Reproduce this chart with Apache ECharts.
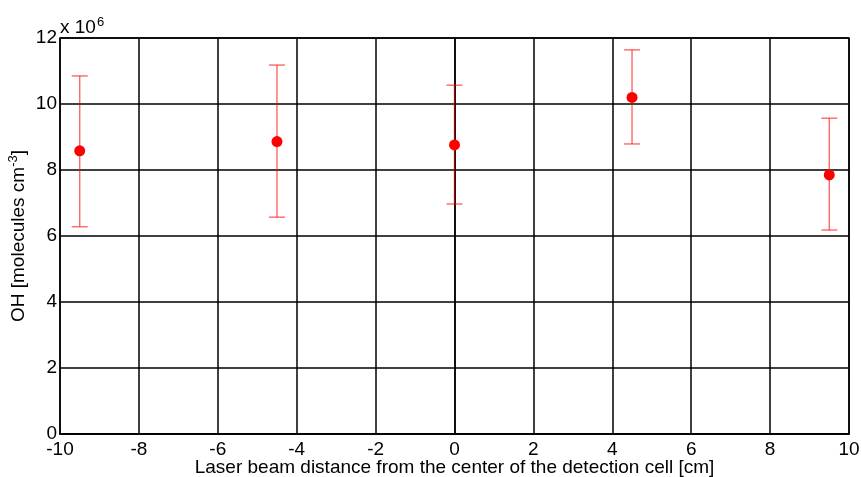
<!DOCTYPE html>
<html>
<head>
<meta charset="utf-8">
<script src="https://cdn.jsdelivr.net/npm/echarts@6/dist/echarts.min.js"></script>
<style>
  html, body { margin: 0; padding: 0; background: #fff; }
  #chart { width: 861px; height: 477px; }
</style>
</head>
<body>
<div id="chart"></div>
<script>
// Laser beam position [cm] and measured OH concentration (units of 1e6 molecules cm^-3)
const positions = [-9.5, -4.5, 0, 4.5, 9.5];
const ohValues = [8.58, 8.86, 8.76, 10.2, 7.85];
const errLow = [6.28, 6.57, 6.97, 8.79, 6.18];
const errHigh = [10.85, 11.18, 10.57, 11.64, 9.57];

const FONT = '"Liberation Sans", Arial, sans-serif';
const FS = 19;
const LINE_W = 1.5;

const pointData = positions.map((x, i) => [x, ohValues[i]]);
const barData = positions.map((x, i) => [x, errLow[i], errHigh[i]]);

const chart = echarts.init(document.getElementById('chart'));
chart.setOption({
  animation: false,
  grid: {
    left: 60, right: 12, top: 38, bottom: 43,
    outerBoundsMode: 'none',
    containLabel: false,
    show: true, borderColor: '#000', borderWidth: LINE_W
  },
  xAxis: {
    type: 'value', min: -10, max: 10, interval: 2,
    name: 'Laser beam distance from the center of the detection cell [cm]',
    nameLocation: 'middle', nameGap: 24, nameMoveOverlap: false,
    nameTextStyle: { fontFamily: FONT, fontSize: FS, color: '#000' },
    axisLine: { show: true, lineStyle: { color: '#000', width: LINE_W } },
    axisTick: { show: false },
    axisLabel: { fontFamily: FONT, fontSize: FS, color: '#000', margin: 6 },
    splitLine: { show: true, lineStyle: { color: '#000', width: LINE_W } }
  },
  yAxis: {
    type: 'value', min: 0, max: 12, interval: 2,
    name: '{n|OH [molecules cm}{s|-3}{n|]}',
    nameLocation: 'middle', nameGap: 30, nameRotate: 90, nameMoveOverlap: false,
    nameTextStyle: {
      rich: {
        n: { fontFamily: FONT, fontSize: FS, color: '#000' },
        s: { fontFamily: FONT, fontSize: 13, color: '#000', verticalAlign: 'top', padding: [0, 0, 10, 0] }
      }
    },
    axisLine: { show: true, lineStyle: { color: '#000', width: LINE_W } },
    axisTick: { show: false },
    axisLabel: { fontFamily: FONT, fontSize: FS, color: '#000', margin: 3 },
    splitLine: { show: true, lineStyle: { color: '#000', width: LINE_W } }
  },
  graphic: [{
    type: 'text', left: 60, top: 16,
    style: {
      text: '{a|x 10}{b|6}',
      rich: {
        a: { fontFamily: FONT, fontSize: FS, fill: '#000' },
        b: { fontFamily: FONT, fontSize: 13, fill: '#000', verticalAlign: 'top', padding: [0, 0, 10, 1] }
      }
    }
  }],
  series: [
    {
      type: 'custom',
      data: barData,
      z: 3,
      renderItem: function (params, api) {
        const x = api.value(0);
        const lo = api.coord([x, api.value(1)]);
        const hi = api.coord([x, api.value(2)]);
        const w = 8;
        const style = { stroke: 'rgba(255,0,0,0.6)', lineWidth: 1.4 };
        return {
          type: 'group',
          children: [
            { type: 'line', shape: { x1: lo[0], y1: lo[1], x2: hi[0], y2: hi[1] }, style: style },
            { type: 'line', shape: { x1: lo[0] - w, y1: lo[1], x2: lo[0] + w, y2: lo[1] }, style: style },
            { type: 'line', shape: { x1: hi[0] - w, y1: hi[1], x2: hi[0] + w, y2: hi[1] }, style: style }
          ]
        };
      }
    },
    {
      type: 'scatter',
      data: pointData,
      symbol: 'circle',
      symbolSize: 11,
      z: 4,
      itemStyle: { color: '#ff0000', opacity: 1 }
    }
  ]
});
</script>
</body>
</html>
